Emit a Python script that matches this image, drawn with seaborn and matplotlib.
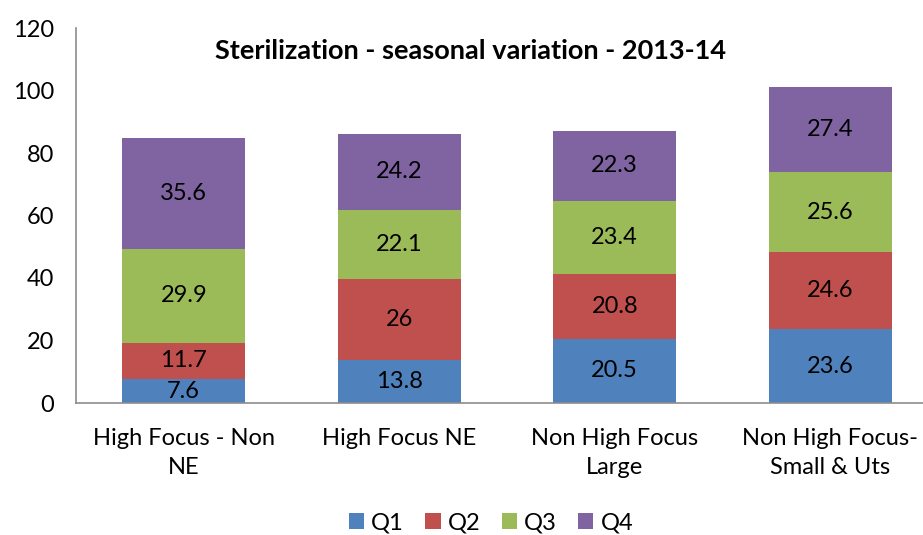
import matplotlib
matplotlib.use("Agg")
import matplotlib.pyplot as plt
import seaborn as sns
import pandas as pd
import numpy as np
from matplotlib.patches import Patch

categories = ["High Focus - Non\nNE", "High Focus NE", "Non High Focus\nLarge", "Non High Focus-\nSmall & Uts"]
q1 = [7.6, 13.8, 20.5, 23.6]
q2 = [11.7, 26, 20.8, 24.6]
q3 = [29.9, 22.1, 23.4, 25.6]
q4 = [35.6, 24.2, 22.3, 27.4]
series_names = ["Q1", "Q2", "Q3", "Q4"]
colors = ["#4F81BD", "#C0504D", "#9BBB59", "#8064A2"]
title = "Sterilization - seasonal variation - 2013-14"

sns.set_theme(style="white")
plt.rcParams['font.family'] = ['Lato', 'DejaVu Sans']
plt.rcParams['text.color'] = 'black'

vals = np.array([q1, q2, q3, q4])
cum = np.cumsum(vals, axis=0)

fig = plt.figure(figsize=(9.23, 5.35), dpi=100)
W, H = 923, 535
ax = fig.add_axes([76 / W, (H - 403) / H, (938 - 76) / W, (403 - 28) / H])

for i in range(3, -1, -1):
    df = pd.DataFrame({"cat": categories, "val": cum[i]})
    sns.barplot(data=df, x="cat", y="val", color=colors[i], saturation=1,
                width=0.57, ax=ax, order=categories, edgecolor="none")

for i in range(4):
    for j in range(len(categories)):
        bottom = cum[i][j] - vals[i][j]
        v = vals[i][j]
        txt = f"{v:g}"
        ax.text(j, bottom + v / 2, txt, ha="center", va="center", fontsize=17, color="black")

ax.set_ylim(0, 120)
ax.set_xlim(-0.5, 3.5)
ax.set_yticks(range(0, 121, 20))
ax.set_xlabel("")
ax.set_ylabel("")
ax.tick_params(axis="both", length=0, labelsize=17, colors="black")
ax.tick_params(axis="y", pad=16)
ax.tick_params(axis="x", pad=18)
for lbl in ax.get_xticklabels():
    lbl.set_linespacing(1.45)
for s in ["top", "right"]:
    ax.spines[s].set_visible(False)
for s in ["left", "bottom"]:
    ax.spines[s].set_color("#8c8c8c")
    ax.spines[s].set_linewidth(1.2)

fig.text(471 / W, 1 - 51 / H, title, ha="center", va="center", fontsize=19.5,
         fontweight="bold", color="black")

handles = [Patch(facecolor=c, edgecolor="none", label=n) for c, n in zip(colors, series_names)]
fig.legend(handles=handles, loc="center", bbox_to_anchor=(491 / W, 1 - 523 / H), ncol=4,
           frameon=False, fontsize=17, handlelength=0.65, handleheight=0.65,
           handletextpad=0.3, columnspacing=0.9, labelcolor="black")

fig.savefig("out.png", dpi=100)
